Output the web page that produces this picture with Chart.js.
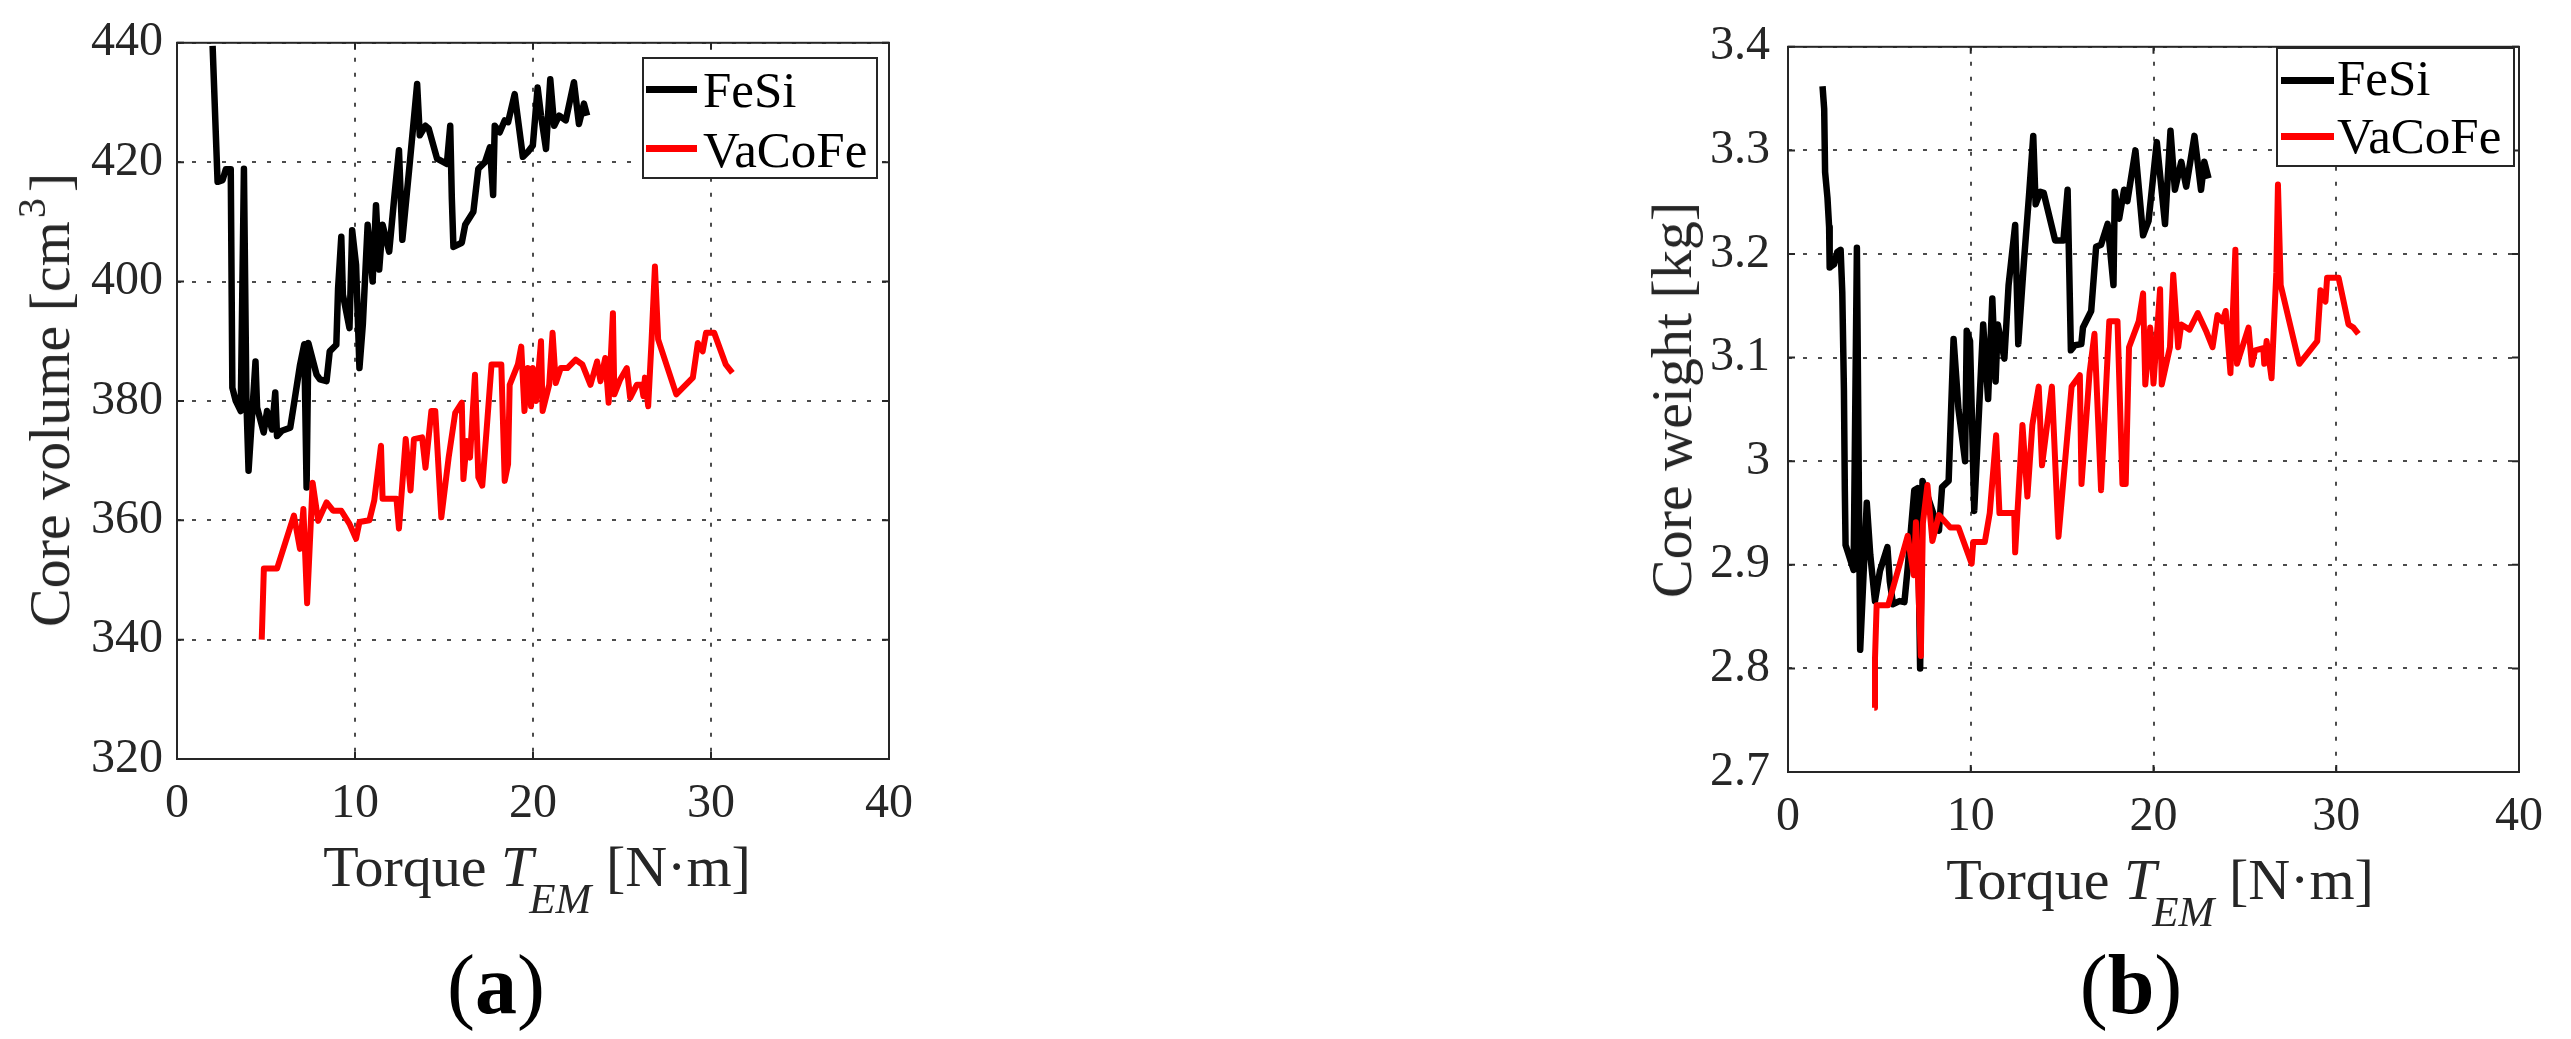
<!DOCTYPE html>
<html>
<head>
<meta charset="utf-8">
<title>Core volume and core weight vs torque</title>
<script src="https://cdn.jsdelivr.net/npm/chart.js@4.4.1/dist/chart.umd.min.js"></script>
<style>
  html, body { margin: 0; padding: 0; background: #fff; }
  body {
    width: 2571px; height: 1039px; position: relative; overflow: hidden;
    font-family: 'Liberation Serif', 'Times New Roman', serif; color: #262626;
  }
  canvas { position: absolute; top: 0; }
  .lbl { position: absolute; white-space: nowrap; line-height: 1; z-index: 2; }
  .xt { font-size: 58px; transform: translateX(-50%); }
  .xt sub { font-size: 43px; font-style: italic; vertical-align: baseline; position: relative; top: 27px; margin-left: -4px; }
  .yt { font-size: 58px; transform: translate(-50%, -50%) rotate(-90deg); }
  .yt sup { font-size: 40px; vertical-align: baseline; position: relative; top: -24px; margin-left: 3px; margin-right: 6px; }
  .cap { font-size: 84px; transform: translateX(-50%); color: #000; }
  .legend { position: absolute; border: 2px solid #262626; background: #fff; z-index: 2; box-sizing: border-box; }
  .swatch { position: absolute; height: 7px; }
  .legtxt { position: absolute; font-size: 51px; line-height: 1; color: #000; white-space: nowrap; }
</style>
</head>
<body>

<canvas id="chartA" width="930" height="850" style="left:0px"></canvas>
<canvas id="chartB" width="960" height="870" style="left:1600px"></canvas>

<!-- axis titles -->
<div class="lbl yt" style="left:50px; top:400px">Core volume [cm<sup>3</sup>]</div>
<div class="lbl xt" style="left:537px; top:838px">Torque <i>T</i><sub>EM</sub> [N·m]</div>
<div class="lbl yt" style="left:1672px; top:400px">Core weight [kg]</div>
<div class="lbl xt" style="left:2160px; top:851px">Torque <i>T</i><sub>EM</sub> [N·m]</div>

<!-- panel captions -->
<div class="lbl cap" style="left:496px; top:943px">(<b>a</b>)</div>
<div class="lbl cap" style="left:2131px; top:943px">(<b>b</b>)</div>

<!-- legends -->
<div class="legend" style="left:642px; top:57px; width:236px; height:122px">
  <div class="swatch" style="left:2px; top:27px; width:51px; background:#000"></div>
  <div class="legtxt" style="left:59px; top:6px">FeSi</div>
  <div class="swatch" style="left:2px; top:86px; width:51px; background:#ff0000"></div>
  <div class="legtxt" style="left:59px; top:66px">VaCoFe</div>
</div>
<div class="legend" style="left:2276px; top:47px; width:239px; height:120px">
  <div class="swatch" style="left:3px; top:28px; width:53px; background:#000"></div>
  <div class="legtxt" style="left:59px; top:4px">FeSi</div>
  <div class="swatch" style="left:3px; top:84px; width:53px; background:#ff0000"></div>
  <div class="legtxt" style="left:59px; top:62px">VaCoFe</div>
</div>

<script>
// ---- data ----

// (a) core volume [cm3] vs torque [N.m]
const feSiTorqueA = [2.0, 2.19, 2.28, 2.56, 2.74, 3.02, 3.11, 3.3, 3.58, 3.76, 3.9, 4.02, 4.41, 4.5, 4.87, 5.06, 5.34, 5.52, 5.62, 5.89, 6.36, 6.54, 6.91, 7.15, 7.28, 7.38, 7.84, 8.03, 8.4, 8.58, 8.95, 9.05, 9.23, 9.32, 9.69, 9.84, 10.06, 10.25, 10.44, 10.71, 10.99, 11.18, 11.36, 11.55, 11.92, 12.2, 12.47, 12.66, 13.03, 13.31, 13.49, 13.64, 13.96, 14.14, 14.61, 15.16, 15.35, 15.44, 15.53, 16.0, 16.19, 16.65, 16.93, 17.3, 17.58, 17.76, 17.85, 18.13, 18.41, 18.6, 18.97, 19.43, 19.71, 19.99, 20.26, 20.45, 20.73, 20.97, 21.19, 21.47, 21.84, 22.3, 22.58, 22.86, 23.04];
const feSiVolume = [439.5, 424, 416.7, 417, 418.8, 418.8, 382.2, 380, 378.3, 418.9, 380, 368.3, 386.6, 378.9, 374.7, 378.3, 375.2, 381.4, 374.1, 375, 375.5, 378.9, 386, 389.5, 365.5, 389.7, 384.4, 383.6, 383.3, 388.3, 389.4, 398.9, 407.5, 397.8, 392.2, 408.6, 402.8, 385.5, 392.8, 409.5, 400, 412.8, 402, 409.5, 405, 413.9, 422, 407, 418.4, 427.3, 433.1, 424.5, 426.1, 425.6, 420.6, 419.7, 426.1, 413.9, 405.8, 406.5, 409.5, 411.7, 418.9, 420, 422.5, 414.5, 426.1, 425, 427, 426.7, 431.4, 420.9, 421.7, 422.8, 432.5, 427.8, 422.2, 433.9, 426.1, 427.8, 427, 433.4, 426.4, 429.8, 427.8];
const vaCoFeTorqueA = [4.76, 4.88, 5.62, 6.57, 6.91, 7.1, 7.31, 7.62, 7.93, 8.4, 8.77, 9.23, 9.69, 10.06, 10.25, 10.81, 11.08, 11.46, 11.55, 12.33, 12.47, 12.85, 13.12, 13.31, 13.77, 13.96, 14.29, 14.51, 14.85, 15.26, 15.63, 16.0, 16.09, 16.28, 16.46, 16.74, 16.93, 17.15, 17.39, 17.67, 18.22, 18.41, 18.6, 18.69, 19.15, 19.34, 19.52, 19.71, 19.89, 19.99, 20.17, 20.45, 20.54, 20.91, 21.1, 21.28, 21.56, 21.93, 22.4, 22.77, 23.23, 23.6, 23.79, 24.06, 24.25, 24.49, 24.57, 24.9, 25.27, 25.46, 25.83, 26.1, 26.2, 26.29, 26.47, 26.66, 26.85, 27.03, 28.05, 28.98, 29.26, 29.53, 29.72, 30.18, 30.83, 31.2];
const vaCoFeVolume = [340, 351.9, 351.9, 360.8, 355.2, 361.9, 346.1, 366.3, 359.9, 363, 361.6, 361.6, 359.4, 356.9, 359.7, 360, 363.3, 372.5, 363.6, 363.6, 358.6, 373.6, 365, 373.6, 373.9, 368.8, 378.3, 378.3, 360.5, 370.5, 378, 379.7, 366.9, 373.3, 370.5, 384.4, 367.2, 365.8, 375, 386.1, 386.1, 366.6, 369.4, 382.7, 386.1, 389.1, 378.3, 385.5, 379.1, 385.5, 380, 390, 378.3, 382.7, 391.4, 383, 385.5, 385.5, 386.9, 386.1, 382.7, 386.6, 383.3, 387.2, 379.7, 394.7, 381.1, 383.6, 385.5, 380.5, 382.7, 382.7, 380.8, 383.9, 379.1, 390, 402.5, 390.3, 381.1, 383.9, 389.7, 388.3, 391.4, 391.4, 386.1, 384.7];

// (b) core weight [kg] vs torque [N.m]
const feSiTorqueB = [1.89, 1.98, 2.03, 2.16, 2.25, 2.28, 2.52, 2.70, 2.88, 2.97, 3.06, 3.11, 3.15, 3.59, 3.77, 3.95, 4.31, 4.5, 4.76, 5.03, 5.44, 5.57, 5.75, 6.1, 6.37, 6.55, 6.91, 7.09, 7.23, 7.36, 8.26, 8.43, 8.79, 9.06, 9.33, 9.69, 9.78, 9.96, 10.19, 10.68, 10.95, 11.18, 11.36, 11.48, 11.84, 12.07, 12.43, 12.6, 12.92, 13.19, 13.42, 13.55, 13.81, 13.99, 14.62, 15.07, 15.3, 15.48, 15.7, 16.05, 16.14, 16.59, 16.86, 17.13, 17.49, 17.81, 17.88, 18.12, 18.39, 18.57, 19.01, 19.43, 19.73, 20.18, 20.63, 20.93, 21.17, 21.52, 21.79, 22.24, 22.6, 22.78, 23.01];
const feSiWeight = [3.362, 3.340, 3.279, 3.254, 3.226, 3.187, 3.190, 3.202, 3.204, 3.163, 3.069, 2.972, 2.919, 2.895, 3.206, 2.818, 2.96, 2.91, 2.865, 2.894, 2.917, 2.884, 2.862, 2.865, 2.864, 2.897, 2.972, 2.974, 2.800, 2.981, 2.933, 2.975, 2.981, 3.118, 3.05, 3.0, 3.126, 3.116, 2.952, 3.132, 3.06, 3.157, 3.077, 3.132, 3.099, 3.17, 3.228, 3.113, 3.195, 3.257, 3.314, 3.248, 3.26, 3.259, 3.213, 3.213, 3.262, 3.107, 3.112, 3.113, 3.129, 3.145, 3.207, 3.209, 3.229, 3.170, 3.26, 3.234, 3.262, 3.251, 3.300, 3.218, 3.232, 3.308, 3.229, 3.319, 3.262, 3.289, 3.265, 3.314, 3.262, 3.289, 3.273];
const vaCoFeTorqueB = [4.72, 4.76, 4.85, 5.48, 6.55, 6.88, 7.0, 7.27, 7.38, 7.63, 7.9, 8.26, 8.88, 9.33, 10.05, 10.14, 10.77, 11.04, 11.39, 11.57, 12.38, 12.43, 12.83, 13.1, 13.37, 13.72, 13.9, 14.44, 14.8, 15.52, 15.97, 16.06, 16.5, 16.77, 17.13, 17.58, 18.03, 18.3, 18.48, 18.66, 19.19, 19.43, 19.55, 19.82, 20.0, 20.36, 20.45, 20.9, 21.08, 21.35, 21.52, 21.97, 22.42, 22.87, 23.23, 23.5, 23.77, 23.95, 24.21, 24.48, 24.57, 25.2, 25.38, 25.56, 26.01, 26.06, 26.19, 26.46, 26.72, 26.81, 26.96, 27.98, 28.96, 29.14, 29.41, 29.5, 30.13, 30.67, 30.94, 31.21];
const vaCoFeWeight = [2.762, 2.809, 2.861, 2.861, 2.928, 2.890, 2.941, 2.812, 2.94, 2.977, 2.923, 2.948, 2.936, 2.936, 2.901, 2.922, 2.922, 2.95, 3.025, 2.95, 2.95, 2.912, 3.035, 2.966, 3.035, 3.072, 2.996, 3.072, 2.927, 3.072, 3.083, 2.978, 3.085, 3.123, 2.972, 3.135, 3.135, 2.978, 2.978, 3.11, 3.135, 3.162, 3.074, 3.129, 3.075, 3.166, 3.074, 3.11, 3.18, 3.11, 3.132, 3.127, 3.143, 3.126, 3.11, 3.141, 3.135, 3.145, 3.085, 3.204, 3.094, 3.129, 3.093, 3.107, 3.109, 3.094, 3.116, 3.080, 3.182, 3.267, 3.17, 3.094, 3.116, 3.165, 3.154, 3.177, 3.177, 3.132, 3.129, 3.123];

// tick labels
const torqueTicks = [0, 10, 20, 30, 40];
const volumeTicks = [320, 340, 360, 380, 400, 420, 440];
const weightTicks = [2.7, 2.8, 2.9, 3.0, 3.1, 3.2, 3.3, 3.4];

// ---- helpers ----
const zip = (xs, ys) => xs.map((x, i) => ({ x: x, y: ys[i] }));

Chart.defaults.font.family = "'Liberation Serif', serif";

// draw the closed axes box and the little inward tick marks (MATLAB style)
const axesBox = {
  id: 'axesBox',
  afterDraw(chart) {
    const { ctx, chartArea: a, scales } = chart;
    ctx.save();
    ctx.strokeStyle = '#262626';
    ctx.lineWidth = 2;
    ctx.strokeRect(a.left, a.top, a.right - a.left, a.bottom - a.top);
    ctx.beginPath();
    scales.x.ticks.forEach(t => {
      const px = scales.x.getPixelForValue(t.value);
      ctx.moveTo(px, a.bottom); ctx.lineTo(px, a.bottom - 7);
      ctx.moveTo(px, a.top); ctx.lineTo(px, a.top + 7);
    });
    scales.y.ticks.forEach(t => {
      const py = scales.y.getPixelForValue(t.value);
      ctx.moveTo(a.left, py); ctx.lineTo(a.left + 7, py);
      ctx.moveTo(a.right, py); ctx.lineTo(a.right - 7, py);
    });
    ctx.stroke();
    ctx.restore();
  }
};

function makeChart(id, opts) {
  const tickFont = { family: "'Liberation Serif', serif", size: 48 };
  const grid = { color: 'rgba(0,0,0,0.7)', lineWidth: 2, drawTicks: false };
  const border = { display: false, dash: [4, 11] };
  return new Chart(document.getElementById(id), {
    type: 'line',
    data: {
      datasets: [
        { label: 'FeSi', data: opts.feSi, borderColor: '#000000', borderWidth: 6.5, order: 2 },
        { label: 'VaCoFe', data: opts.vaCoFe, borderColor: '#ff0000', borderWidth: 6, order: 1 }
      ]
    },
    options: {
      responsive: false,
      animation: false,
      devicePixelRatio: 1,
      parsing: false,
      elements: {
        point: { radius: 0, hoverRadius: 0 },
        line: { tension: 0, borderJoinStyle: 'round', borderCapStyle: 'butt', fill: false }
      },
      layout: { padding: opts.padding },
      plugins: { legend: { display: false }, tooltip: { enabled: false } },
      scales: {
        x: {
          type: 'linear',
          min: 0, max: 40,
          grid: grid, border: border,
          afterBuildTicks: s => { s.ticks = torqueTicks.map(v => ({ value: v })); },
          afterFit: s => { s.height = opts.xHeight; },
          ticks: { font: tickFont, color: '#262626', padding: 17, maxRotation: 0, autoSkip: false }
        },
        y: {
          type: 'linear',
          min: opts.yTicks[0], max: opts.yTicks[opts.yTicks.length - 1],
          grid: grid, border: border,
          afterBuildTicks: s => { s.ticks = opts.yTicks.map(v => ({ value: v })); },
          afterFit: s => { s.width = opts.yWidth; },
          ticks: {
            font: tickFont, color: '#262626', padding: opts.yPad, autoSkip: false,
            callback: v => String(+v.toFixed(1))
          }
        }
      }
    },
    plugins: [axesBox]
  });
}

makeChart('chartA', {
  feSi: zip(feSiTorqueA, feSiVolume),
  vaCoFe: zip(vaCoFeTorqueA, vaCoFeVolume),
  yTicks: volumeTicks,
  padding: { top: 40, right: 33, left: 0, bottom: 0 },
  yWidth: 177, xHeight: 91, yPad: 14
});

makeChart('chartB', {
  feSi: zip(feSiTorqueB, feSiWeight),
  vaCoFe: zip(vaCoFeTorqueB, vaCoFeWeight),
  yTicks: weightTicks,
  padding: { top: 28, right: 28, left: 0, bottom: 0 },
  yWidth: 188, xHeight: 98, yPad: 18
});
</script>
</body>
</html>
